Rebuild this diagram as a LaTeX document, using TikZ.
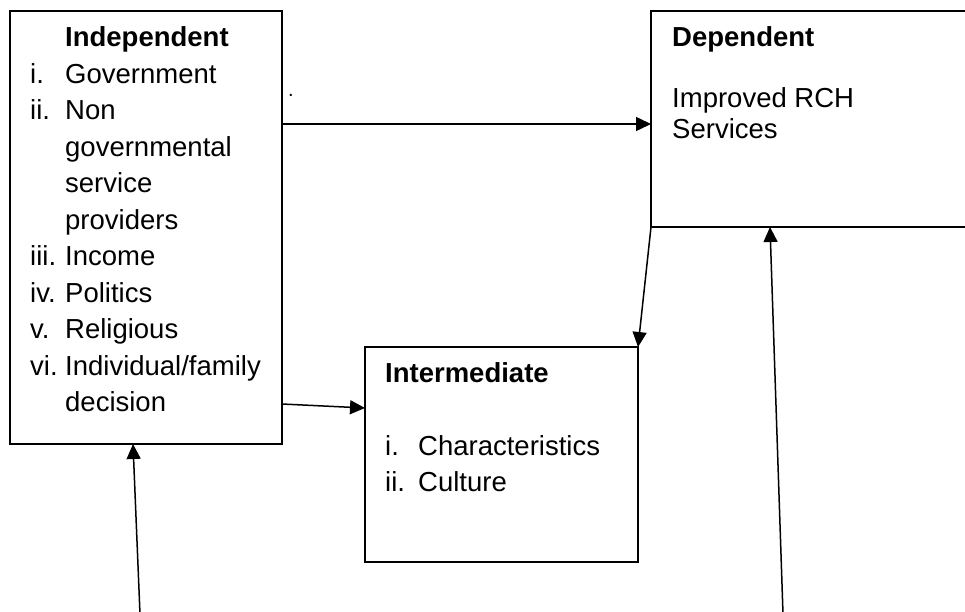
\documentclass[tikz,border=0pt]{standalone}
\usepackage{fontspec}
\setmainfont{Liberation Sans}
\usetikzlibrary{arrows.meta}

\begin{document}
\begin{tikzpicture}[x=1pt, y=-1pt,
    box/.style={draw, line width=1.6pt, rectangle, outer sep=0pt, inner sep=0pt, anchor=north west},
    txt/.style={inner sep=0pt, anchor=base west, font=\fontsize{27.5pt}{36.5pt}\selectfont},
    arr/.style={-{Triangle[length=15pt,width=14pt]}, line width=1.5pt}]
    \useasboundingbox (0,0) rectangle (965,612); % page size
    % the three boxes
    \node[box, minimum width=272, minimum height=433] (indep) at (10,11) {};
    \node[box, minimum width=330, minimum height=216] (dep) at (651,11) {};
    \node[box, minimum width=273, minimum height=215] (inter) at (365,347) {};
    % texts in the boxes
    \node[txt] (indeptext) at (30,47) {\begin{tabular}[t]{@{}p{35pt}@{}l@{}}
        & \textbf{Independent}\\
        i. & Government\\
        ii. & Non\\
        & governmental\\
        & service\\
        & providers\\
        iii. & Income\\
        iv. & Politics\\
        v. & Religious\\
        vi. & Individual/family\\
        & decision
    \end{tabular}};
    \node[txt, font=\fontsize{27.5pt}{30.5pt}\selectfont] (deptext) at (672,47) {\begin{tabular}[t]{@{}l@{}}
        \textbf{Dependent}\\
        \\
        Improved RCH\\
        Services
    \end{tabular}};
    \node[txt] (intertext) at (385,382) {\begin{tabular}[t]{@{}p{33pt}@{}l@{}}
        \multicolumn{2}{@{}l@{}}{\textbf{Intermediate}}\\
        \\
        i. & Characteristics\\
        ii. & Culture
    \end{tabular}};
    \node[inner sep=0pt, anchor=base, font=\fontsize{20pt}{20pt}\selectfont] (dot) at (291,97) {.};
    % arrows between the boxes
    \draw[arr] ([yshift=-113pt]indep.north east) -- ([yshift=-113pt]dep.north west);
    \draw[arr] (dep.south west) -- (inter.north east);
    \draw[arr] ([yshift=40pt]indep.south east) -- ([yshift=-61pt]inter.north west);
    % arrows coming up from below
    \coordinate (lfoot) at (140,614);
    \coordinate (rfoot) at (783,614);
    \draw[arr] (lfoot) -- ([xshift=123pt]indep.south west);
    \draw[arr] (rfoot) -- ([xshift=119pt]dep.south west);
\end{tikzpicture}
\end{document}
